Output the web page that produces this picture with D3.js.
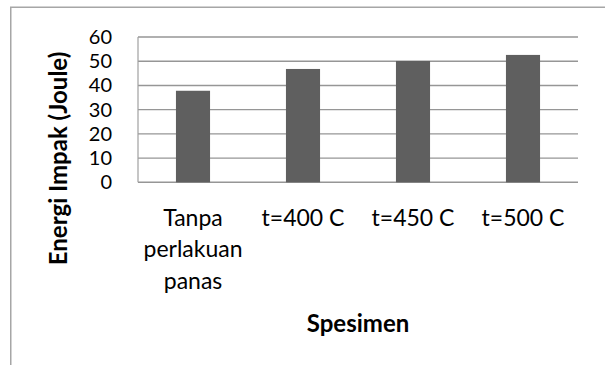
<!DOCTYPE html>
<html>
<head>
<meta charset="utf-8">
<script src="https://cdn.jsdelivr.net/npm/d3@7"></script>
<style>
  html, body { margin: 0; padding: 0; background: #fff; }
  svg { display: block; }
  text { font-family: Lato, "Open Sans", sans-serif; fill: #000; }
</style>
</head>
<body>
<svg id="chart" width="605" height="365"></svg>
<script>
// Impact energy per specimen group
const categories = ["Tanpa perlakuan panas", "t=400 C", "t=450 C", "t=500 C"];
const categoryLines = [["Tanpa", "perlakuan", "panas"], ["t=400 C"], ["t=450 C"], ["t=500 C"]];
const energies = [37.8, 46.8, 50.1, 52.6];
const yTicks = [0, 10, 20, 30, 40, 50, 60];
const yTitle = "Energi Impak (Joule)";
const xTitle = "Spesimen";

const svg = d3.select("#chart");
const W = 605, H = 365;
const plot = { left: 138, right: 578, top: 37, bottom: 182.3 };

// chart frame (clipped by the page edges on the right and bottom)
svg.append("rect")
  .attr("x", 10.75).attr("y", 7.25)
  .attr("width", W + 20).attr("height", H + 20)
  .attr("fill", "none").attr("stroke", "#a6a6a6").attr("stroke-width", 1.5);

const x = d3.scaleBand()
  .domain(categories)
  .range([plot.left, plot.right])
  .paddingInner(0.69)
  .paddingOuter(0.345);

const y = d3.scaleLinear()
  .domain([0, 60])
  .range([plot.bottom, plot.top]);

// horizontal gridlines
svg.append("g")
  .selectAll("line")
  .data(yTicks)
  .join("line")
  .attr("x1", plot.left).attr("x2", plot.right)
  .attr("y1", d => y(d)).attr("y2", d => y(d))
  .attr("stroke", "#969696").attr("stroke-width", 1.4);

// vertical axis line
svg.append("line")
  .attr("x1", plot.left).attr("x2", plot.left)
  .attr("y1", y(60)).attr("y2", y(0))
  .attr("stroke", "#a0a0a0").attr("stroke-width", 1.2);

// bars
svg.append("g")
  .selectAll("rect")
  .data(energies)
  .join("rect")
  .attr("x", (d, i) => x(categories[i]))
  .attr("width", x.bandwidth())
  .attr("y", d => y(d))
  .attr("height", d => y(0) - y(d))
  .attr("fill", "#5f5f5f");

// y axis labels
const yAxis = d3.axisLeft(y).tickValues(yTicks).tickSize(0).tickPadding(26).tickFormat(d3.format("d"));
const gy = svg.append("g").attr("transform", `translate(${plot.left},0)`).call(yAxis);
gy.select(".domain").remove();
gy.selectAll("text")
  .attr("font-family", "Lato, 'Open Sans', sans-serif")
  .attr("font-size", 20).attr("fill", "#000");

// x axis category labels (multi-line)
const xl = svg.append("g")
  .selectAll("text")
  .data(categories)
  .join("text")
  .attr("text-anchor", "middle")
  .attr("font-size", 23)
  .attr("transform", d => `translate(${x(d) + x.bandwidth() / 2},${plot.bottom + 43.4})`);
xl.selectAll("tspan")
  .data((d, i) => categoryLines[i])
  .join("tspan")
  .attr("x", 0)
  .attr("y", (d, i) => i * 31.7)
  .text(d => d);

// axis titles
svg.append("text")
  .attr("transform", `translate(67,158.5) rotate(-90)`)
  .attr("text-anchor", "middle")
  .attr("font-size", 24).attr("font-weight", "bold")
  .text(yTitle);

svg.append("text")
  .attr("x", (plot.left + plot.right) / 2).attr("y", 331.7)
  .attr("text-anchor", "middle")
  .attr("font-size", 24).attr("font-weight", "bold")
  .text(xTitle);
</script>
</body>
</html>
